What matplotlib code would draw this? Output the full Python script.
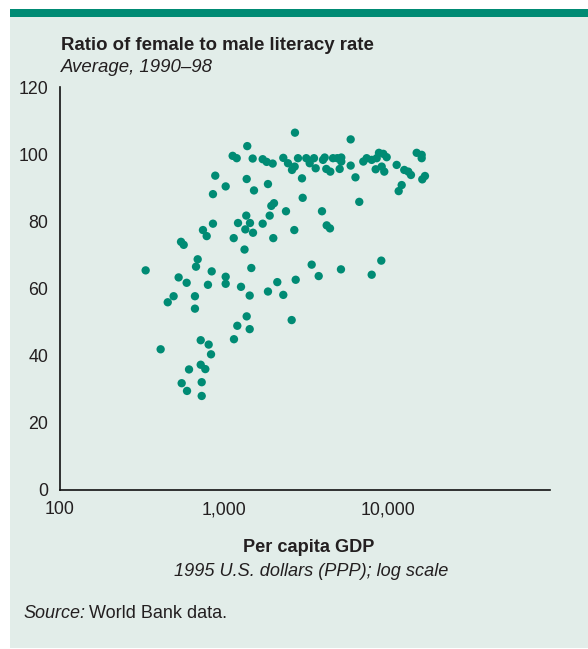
import matplotlib
matplotlib.use("Agg")
import matplotlib.pyplot as plt
from matplotlib.patches import Rectangle

plt.rcParams['font.family'] = ['Liberation Sans', 'DejaVu Sans']

# Per capita GDP (1995 US$ PPP) and female/male literacy ratio
gdp = [1385, 1129, 1195, 1494, 1719, 1818, 1977, 2294, 2449, 885,
       1374, 1024, 1851, 1522, 857, 2014, 1940, 2382, 1366, 1896,
       857, 1217, 1439, 1719, 745, 1348, 1501, 785, 1146, 1994,
       548, 569, 1333, 692, 676, 334, 842, 1466, 530, 593,
       799, 1024, 1024, 1269, 2109, 1851, 2294, 494, 455, 666,
       1433, 666, 1374, 1205, 1433, 2579, 1150, 722, 807, 834,
       412, 722, 770, 613, 553, 732, 596, 732, 3413, 9043,
       2729, 3765, 5142, 7906, 2701, 5891, 2818, 2591, 2690, 2980,
       3164, 3319, 3525, 3610, 3999, 4095, 4188, 4429, 4599, 4884,
       5165, 5165, 5050, 5891, 6300, 7029, 7371, 7906, 8478, 8754,
       9299, 9752, 8359, 9429, 9095, 11215, 12474, 13193, 13700, 14842,
       15917, 15917, 16668, 16053, 12030, 11535, 3009, 6644, 3943, 2676,
       4211, 4410]
ratio = [102.4, 99.5, 98.8, 98.7, 98.5, 97.7, 97.2, 98.9, 97.3, 93.6,
         92.6, 90.4, 91.1, 89.2, 88.1, 85.4, 84.6, 83.0, 81.7, 81.7,
         79.3, 79.5, 79.5, 79.3, 77.4, 77.6, 76.6, 75.6, 75.0, 75.0,
         73.9, 73.0, 71.6, 68.7, 66.5, 65.4, 65.1, 66.1, 63.3, 61.7,
         61.1, 63.5, 61.4, 60.5, 61.9, 59.1, 58.1, 57.7, 55.9, 57.7,
         57.9, 54.0, 51.7, 48.9, 47.9, 50.6, 44.9, 44.6, 43.3, 40.4,
         41.9, 37.3, 36.0, 35.9, 31.8, 32.1, 29.5, 28.0, 67.1, 68.3,
         62.6, 63.7, 65.7, 64.1, 106.4, 104.4, 98.8, 95.3, 96.3, 92.8,
         98.8, 97.3, 98.8, 95.8, 98.3, 99.0, 95.6, 94.8, 98.8, 98.8,
         99.0, 97.8, 95.6, 96.6, 93.1, 97.8, 98.8, 98.3, 98.8, 100.4,
         100.1, 99.1, 95.5, 94.8, 96.3, 96.8, 95.3, 94.8, 93.8, 100.4,
         99.8, 98.8, 93.5, 92.5, 90.8, 89.0, 87.0, 85.8, 83.0, 77.4,
         78.8, 77.9]

xticks = [100, 1000, 10000]
xticklabels = ["100", "1,000", "10,000"]
yticks = [0, 20, 40, 60, 80, 100, 120]

BG = '#e2ede9'
GREEN = '#008b74'
TXT = '#231f20'

W, H = 588, 649
fig = plt.figure(figsize=(W / 100, H / 100), dpi=100)
fig.patch.set_facecolor('white')

def fx(px):
    return px / W

def fy(py):
    return 1 - py / H

# panel background and top green bar
fig.patches.append(Rectangle((fx(10), fy(648)), fx(578), 631 / H,
                             transform=fig.transFigure, facecolor=BG,
                             edgecolor='none', zorder=-10))
fig.patches.append(Rectangle((fx(10), fy(17)), fx(578), 8 / H,
                             transform=fig.transFigure, facecolor=GREEN,
                             edgecolor='none', zorder=-10))

ax = fig.add_axes([fx(59.5), fy(490), fx(550) - fx(59.5), fy(87) - fy(490)])
ax.set_facecolor('none')
ax.scatter(gdp, ratio, s=36, color=GREEN, edgecolors='none', zorder=3,
           clip_on=False)
ax.set_xscale('log')
ax.set_xlim(100, 10 ** 4.982)
ax.set_ylim(0, 120)
ax.set_xticks(xticks)
ax.set_xticklabels(xticklabels)
ax.minorticks_off()
ax.set_yticks(yticks)
ax.set_yticklabels([str(v) for v in yticks])
ax.tick_params(axis='both', length=0, labelsize=12.8, colors=TXT)
ax.tick_params(axis='x', pad=8)
ax.tick_params(axis='y', pad=8)
for s in ['top', 'right']:
    ax.spines[s].set_visible(False)
for s in ['left', 'bottom']:
    ax.spines[s].set_color('#111111')
    ax.spines[s].set_linewidth(1.2)

fig.text(fx(61), fy(45), "Ratio of female to male literacy rate",
         fontsize=13.4, fontweight='bold', color=TXT, va='center', ha='left')
fig.text(fx(61), fy(68), "Average, 1990\u201398", fontsize=13.4,
         style='italic', color=TXT, va='center', ha='left')
fig.text(fx(309), fy(548), "Per capita GDP", fontsize=13.1,
         fontweight='bold', color=TXT, va='center', ha='center')
fig.text(fx(311), fy(572), "1995 U.S. dollars (PPP); log scale",
         fontsize=13.1, style='italic', color=TXT, va='center', ha='center')
src = fig.text(fx(23), fy(613), "Source:", fontsize=13, style='italic',
               color=TXT, va='center', ha='left')
fig.canvas.draw()
bb = src.get_window_extent(renderer=fig.canvas.get_renderer())
fig.text((bb.x1 + 4) / W, fy(613), "World Bank data.", fontsize=13,
         color=TXT, va='center', ha='left')

fig.savefig('out.png', dpi=100, facecolor='white')
